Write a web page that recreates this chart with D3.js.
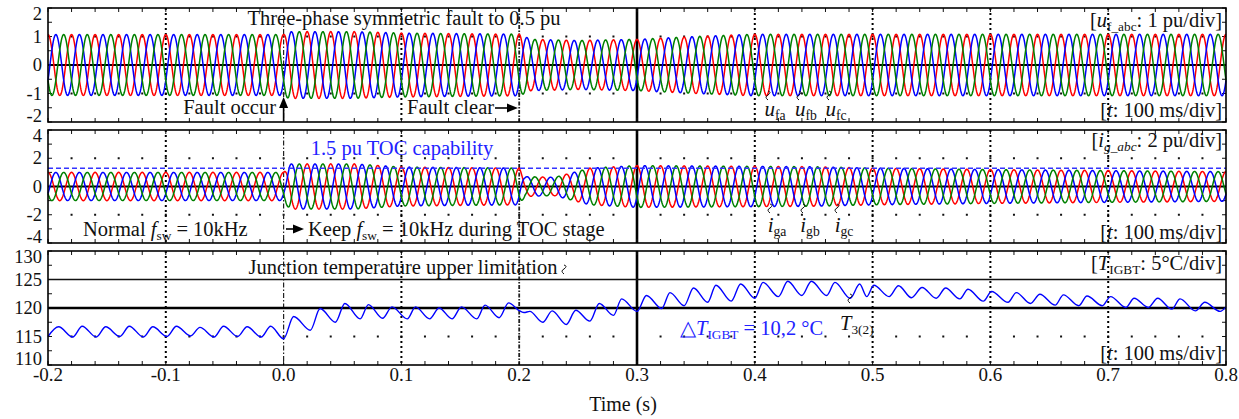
<!DOCTYPE html>
<html>
<head>
<meta charset="utf-8">
<script src="https://cdn.jsdelivr.net/npm/d3@7"></script>
<style>
  body { margin: 0; background: #fff; }
  svg text { font-family: "Liberation Serif", "Times New Roman", serif; fill: #111; }
</style>
</head>
<body>
<div id="chart-area"></div>
<script>
// time axis
var timeTicks = [-0.2, -0.1, 0.0, 0.1, 0.2, 0.3, 0.4, 0.5, 0.6, 0.7, 0.8]
var timeLabels = ["-0.2", "-0.1", "0.0", "0.1", "0.2", "0.3", "0.4", "0.5", "0.6", "0.7", "0.8"]
var dottedTimes = [-0.1, 0.1, 0.4, 0.5, 0.6, 0.7]

// y tick labels per panel
var voltTicks = [2, 1, 0, -1, -2]
var currTicks = [4, 2, 0, -2, -4]
var tempTicks = [130, 125, 120, 115, 110]

// three phases (a, b, c), 50 Hz
var phaseNames = ["a", "b", "c"]
var phaseColors = ["#ff0000", "#0000ff", "#008000"]
var phaseShift = [0, -2 * Math.PI / 3, -4 * Math.PI / 3]
var gridFreq = 50

// voltage envelope u_f (pu)
var voltEnvT = [-0.2, 0.0, 0.004, 0.06, 0.1, 0.2, 0.21, 0.25, 0.3, 0.35, 0.4, 0.8]
var voltEnvA = [1.07, 1.07, 1.17, 1.17, 1.12, 1.08, 0.9, 0.86, 0.9, 1.0, 1.08, 1.08]

// grid current envelope i_g (pu)
var currEnvT = [-0.2, 0.0, 0.005, 0.06, 0.1, 0.2, 0.205, 0.23, 0.26, 0.3, 0.45, 0.5, 0.6, 0.8]
var currEnvA = [1.0, 1.0, 1.6, 1.6, 1.38, 1.3, 0.7, 0.65, 1.3, 1.48, 1.4, 1.3, 1.2, 1.05]
var tocLevel = 1.3

// IGBT junction temperature (vertices of the ripple)
var tempT = [-0.2, -0.191, -0.179, -0.171, -0.159, -0.151, -0.139, -0.131, -0.119, -0.111, -0.099,
  -0.091, -0.079, -0.071, -0.059, -0.051, -0.039, -0.031, -0.019, -0.011, 0.0,
  0.0085, 0.0227, 0.031, 0.044, 0.052, 0.065, 0.072, 0.084, 0.092, 0.105, 0.112, 0.124, 0.132, 0.143,
  0.151, 0.164, 0.171, 0.183, 0.191, 0.1995, 0.204, 0.209, 0.220, 0.228, 0.240, 0.248, 0.260, 0.268,
  0.280, 0.287, 0.300, 0.308, 0.321, 0.328, 0.340, 0.348, 0.360, 0.367, 0.380, 0.388, 0.400, 0.407,
  0.420, 0.428, 0.440, 0.448, 0.461, 0.468, 0.481, 0.489, 0.495, 0.501, 0.514, 0.522, 0.533, 0.542,
  0.554, 0.562, 0.574, 0.581, 0.594, 0.601, 0.615, 0.622, 0.634, 0.642, 0.655, 0.662, 0.675, 0.682,
  0.695, 0.702, 0.715, 0.722, 0.734, 0.742, 0.754, 0.761, 0.774, 0.782, 0.795, 0.800]
var tempV = [115.0, 116.7, 114.9, 116.8, 114.9, 116.7, 115.0, 116.8, 114.9, 116.7, 115.0,
  116.8, 115.1, 116.6, 114.9, 116.8, 115.0, 116.7, 114.9, 116.8, 114.6,
  118.5, 116.1, 119.9, 117.5, 120.8, 118.1, 120.6, 118.2, 120.2, 118.1, 120.2, 118.1, 120.0, 118.1,
  120.2, 118.1, 120.5, 118.3, 120.9, 119.6, 119.2, 119.4, 117.5, 119.5, 117.1, 119.6, 117.7, 120.8,
  118.7, 121.6, 119.4, 122.2, 119.9, 122.7, 120.4, 123.5, 121.0, 124.0, 121.2, 124.2, 121.7, 124.5,
  122.0, 124.7, 122.2, 124.7, 122.2, 124.5, 121.7, 124.2, 122.0, 124.0, 122.0, 123.9, 121.8, 123.6,
  121.7, 123.5, 121.6, 123.3, 121.2, 122.9, 121.0, 122.7, 120.8, 122.4, 120.5, 122.3, 120.4, 122.1,
  120.4, 122.0, 120.1, 121.7, 120.1, 121.7, 119.8, 121.6, 119.5, 121.0, 119.4, 120.2]

var width = 1239
var height = 419
var left = 48, right = 1226

var svg = d3.select("#chart-area")
  .append("svg")
  .attr("width", width)
  .attr("height", height)

var x = d3.scaleLinear().domain([-0.2, 0.8]).range([left, right])

var panels = [
  { top: 8, bottom: 122, domain: [-2, 2], ticks: voltTicks, minor: 0.5, dots: [1, -1] },
  { top: 130, bottom: 243, domain: [-4, 4], ticks: currTicks, minor: 1, dots: [2, -2] },
  { top: 251, bottom: 365, domain: [110, 130], ticks: tempTicks, minor: 2.5, dots: [115] }
]
panels.forEach((p) => {
  p.y = d3.scaleLinear().domain(p.domain).range([p.bottom, p.top])
})

var minorTimes = d3.range(-0.2, 0.8001, 0.02).map((d) => Math.round(d * 100) / 100)

// ---- grid and frame for each panel
panels.forEach((p, i) => {
  var g = svg.append("g").attr("class", "panel-" + i)

  // dot rows
  p.dots.forEach((v) => {
    g.selectAll(null).data(minorTimes.slice(1, -1)).enter().append("rect")
      .attr("x", (d) => x(d) - 1)
      .attr("y", p.y(v) - 1)
      .attr("width", 2).attr("height", 2)
      .attr("fill", "#111")
  })

  // vertical dotted grid
  g.selectAll(null).data(dottedTimes).enter().append("line")
    .attr("x1", (d) => x(d)).attr("x2", (d) => x(d))
    .attr("y1", p.top).attr("y2", p.bottom)
    .attr("stroke", "#000").attr("stroke-width", 2)
    .attr("stroke-dasharray", "2,3")

  // fault occur / clear / 0.3 s lines
  g.append("line")
    .attr("x1", x(0)).attr("x2", x(0)).attr("y1", p.top).attr("y2", p.bottom)
    .attr("stroke", "#222").attr("stroke-width", 1.2).attr("stroke-dasharray", "5,2,1.5,2")
  g.append("line")
    .attr("x1", x(0.2)).attr("x2", x(0.2)).attr("y1", p.top).attr("y2", p.bottom)
    .attr("stroke", "#222").attr("stroke-width", 1.8).attr("stroke-dasharray", "4,1.5,1.5,1.5")
  g.append("line")
    .attr("x1", x(0.3)).attr("x2", x(0.3)).attr("y1", p.top).attr("y2", p.bottom)
    .attr("stroke", "#000").attr("stroke-width", 2.6)

  // minor ticks on top and bottom edges
  g.selectAll(null).data(minorTimes).enter().append("line")
    .attr("x1", (d) => x(d)).attr("x2", (d) => x(d))
    .attr("y1", p.bottom).attr("y2", p.bottom - 4)
    .attr("stroke", "#111").attr("stroke-width", 1)
  g.selectAll(null).data(minorTimes).enter().append("line")
    .attr("x1", (d) => x(d)).attr("x2", (d) => x(d))
    .attr("y1", p.top).attr("y2", p.top + 4)
    .attr("stroke", "#111").attr("stroke-width", 1)

  // left / right ticks
  var yt = d3.range(p.domain[0], p.domain[1] + 0.001, p.minor)
  g.selectAll(null).data(yt).enter().append("line")
    .attr("x1", left).attr("x2", left + 4)
    .attr("y1", (d) => p.y(d)).attr("y2", (d) => p.y(d))
    .attr("stroke", "#111")
  g.selectAll(null).data(yt).enter().append("line")
    .attr("x1", right).attr("x2", right - 4)
    .attr("y1", (d) => p.y(d)).attr("y2", (d) => p.y(d))
    .attr("stroke", "#111")

  // tick labels
  g.selectAll(null).data(p.ticks).enter().append("text")
    .attr("x", 42)
    .attr("y", (d) => Math.max(p.top + 6, Math.min(p.bottom - 6, p.y(d))))
    .attr("dominant-baseline", "central")
    .attr("text-anchor", "end")
    .attr("font-size", "18.5px")
    .text((d) => d)
})

// zero lines / reference lines
svg.append("line").attr("x1", left).attr("x2", right)
  .attr("y1", panels[0].y(0)).attr("y2", panels[0].y(0))
  .attr("stroke", "#000").attr("stroke-width", 2)
svg.append("line").attr("x1", left).attr("x2", right)
  .attr("y1", panels[1].y(0)).attr("y2", panels[1].y(0))
  .attr("stroke", "#000").attr("stroke-width", 2)
svg.append("line").attr("x1", left).attr("x2", right)
  .attr("y1", panels[2].y(125)).attr("y2", panels[2].y(125))
  .attr("stroke", "#111").attr("stroke-width", 1.3)
svg.append("line").attr("x1", left).attr("x2", right)
  .attr("y1", panels[2].y(120)).attr("y2", panels[2].y(120))
  .attr("stroke", "#000").attr("stroke-width", 2.6)

// ---- three-phase waveforms
var sampleT = d3.range(-0.2, 0.80001, 0.0004)
var voltEnv = d3.scaleLinear().domain(voltEnvT).range(voltEnvA).clamp(true)
var currEnv = d3.scaleLinear().domain(currEnvT).range(currEnvA).clamp(true)

function drawPhases(p, env) {
  var line = d3.line().x((d) => x(d[0])).y((d) => p.y(d[1]))
  phaseNames.forEach((nm, k) => {
    var pts = sampleT.map((t) => [t, env(t) * Math.cos(2 * Math.PI * gridFreq * (t + 0.2) + phaseShift[k])])
    svg.append("path")
      .datum(pts)
      .attr("d", line)
      .attr("fill", "none")
      .attr("stroke", phaseColors[k])
      .attr("stroke-width", 1.5)
  })
}
drawPhases(panels[0], voltEnv)
drawPhases(panels[1], currEnv)

// TOC capability dashed line
svg.append("line").attr("x1", left).attr("x2", right)
  .attr("y1", panels[1].y(tocLevel)).attr("y2", panels[1].y(tocLevel))
  .attr("stroke", "#3333ff").attr("stroke-width", 1.5).attr("stroke-dasharray", "5,3")

// temperature
var tempLine = d3.line()
  .x((d, i) => x(tempT[i]))
  .y((d) => panels[2].y(d))
  .curve(d3.curveMonotoneX)
svg.append("path")
  .datum(tempV)
  .attr("d", tempLine)
  .attr("fill", "none")
  .attr("stroke", "#0000ff")
  .attr("stroke-width", 1.4)

// frames
panels.forEach((p) => {
  svg.append("rect")
    .attr("x", left).attr("y", p.top)
    .attr("width", right - left).attr("height", p.bottom - p.top)
    .attr("fill", "none").attr("stroke", "#000").attr("stroke-width", 1.6)
})

// x tick labels
svg.selectAll(null).data(timeTicks).enter().append("text")
  .attr("x", (d) => x(d))
  .attr("y", 374)
  .attr("dominant-baseline", "central")
  .attr("text-anchor", "middle")
  .attr("font-size", "19px")
  .text((d, i) => timeLabels[i])

svg.append("text")
  .attr("x", 623).attr("y", 404)
  .attr("dominant-baseline", "central")
  .attr("text-anchor", "middle")
  .attr("font-size", "20px")
  .text("Time (s)")

// ---- annotations
// parts: [text, kind] kind: "n" normal, "i" italic, "s" subscript, "si" italic subscript
function label(xp, yp, parts, anchor, color, size) {
  size = size || 20.5
  var t = svg.append("text")
    .attr("x", xp).attr("y", yp)
    .attr("text-anchor", anchor || "start")
    .attr("font-size", size + "px")
    .style("fill", color || "#111")
  var low = false
  parts.forEach((pt) => {
    var sub = pt[1] == "s" || pt[1] == "si"
    var ts = t.append("tspan").text(pt[0])
    if (pt[1] == "i" || pt[1] == "si") ts.attr("font-style", "italic")
    if (sub) ts.attr("font-size", (size * 0.65) + "px")
    if (sub && !low) { ts.attr("dy", 4); low = true }
    if (!sub && low) { ts.attr("dy", -4); low = false }
    if (color) ts.style("fill", color)
  })
  return t
}

function arrowHead(xp, yp, dir) {
  var pts = dir == "up"
    ? [[xp, yp], [xp - 4.5, yp + 11], [xp + 4.5, yp + 11]]
    : [[xp, yp], [xp - 11, yp - 4.5], [xp - 11, yp + 4.5]]
  svg.append("path").attr("d", "M" + pts.join("L") + "Z").attr("fill", "#000")
}

function squiggle(xp, yp, color) {
  svg.append("path")
    .attr("d", "M" + (xp - 2) + "," + (yp - 5) + " q4,1 0,4 q-4,2 0,5")
    .attr("fill", "none").attr("stroke", color || "#111").attr("stroke-width", 1)
}

// top panel
label(404, 25, [["Three-phase symmetric fault to 0.5 pu", "n"]], "middle")
label(1222, 27, [["[", "n"], ["u", "i"], ["f_abc", "s"], [": 1 pu/div]", "n"]], "end")
label(1222, 117, [["[", "n"], ["t", "i"], [": 100 ms/div]", "n"]], "end")
label(276, 114, [["Fault occur", "n"]], "end")
svg.append("line").attr("x1", x(0)).attr("x2", x(0)).attr("y1", 121).attr("y2", 104)
  .attr("stroke", "#000").attr("stroke-width", 1.6)
arrowHead(x(0), 97, "up")
label(407, 114, [["Fault clear", "n"]], "start")
svg.append("line").attr("x1", 495).attr("x2", 510).attr("y1", 108).attr("y2", 108)
  .attr("stroke", "#000").attr("stroke-width", 1.6)
arrowHead(518, 108, "right")
var uLab = [[775, "fa"], [806, "fb"], [836, "fc"]]
uLab.forEach((d) => {
  label(d[0], 116, [["u", "i"], [d[1], "s"]], "middle", null, 21)
  squiggle(d[0] - 5, 96)
})

// middle panel
label(402, 155, [["1.5 pu TOC capability", "n"]], "middle", "#2222ff")
label(1222, 147, [["[", "n"], ["i", "i"], ["g_abc", "si"], [": 2 pu/div]", "n"]], "end")
label(1222, 239, [["[", "n"], ["t", "i"], [": 100 ms/div]", "n"]], "end")
label(83, 236, [["Normal ", "n"], ["f", "i"], ["sw", "s"], [" = 10kHz", "n"]], "start")
svg.append("line").attr("x1", 286).attr("x2", 296).attr("y1", 229).attr("y2", 229)
  .attr("stroke", "#000").attr("stroke-width", 1.6)
arrowHead(304, 229, "right")
label(308, 236, [["Keep ", "n"], ["f", "i"], ["sw", "s"], [" = 10kHz during TOC stage", "n"]], "start")
var iLab = [[777, "ga"], [810, "gb"], [844, "gc"]]
iLab.forEach((d) => {
  label(d[0], 232, [["i", "i"], [d[1], "s"]], "middle", null, 21)
  squiggle(d[0] - 5, 209)
})

// bottom panel
label(403, 274, [["Junction temperature  upper limitation", "n"]], "middle")
squiggle(566, 270)
label(1222, 270, [["[", "n"], ["T", "i"], ["IGBT", "s"], [": 5°C/div]", "n"]], "end")
label(1222, 360, [["[", "n"], ["t", "i"], [": 100 ms/div]", "n"]], "end")
label(680, 335, [["△", "n"], ["T", "i"], ["IGBT", "s"], [" = 10,2 °C", "n"]], "start", "#2222ff")
label(840, 330, [["T", "i"], ["3(2)", "s"]], "start")
squiggle(852, 299)
</script>
</body>
</html>
